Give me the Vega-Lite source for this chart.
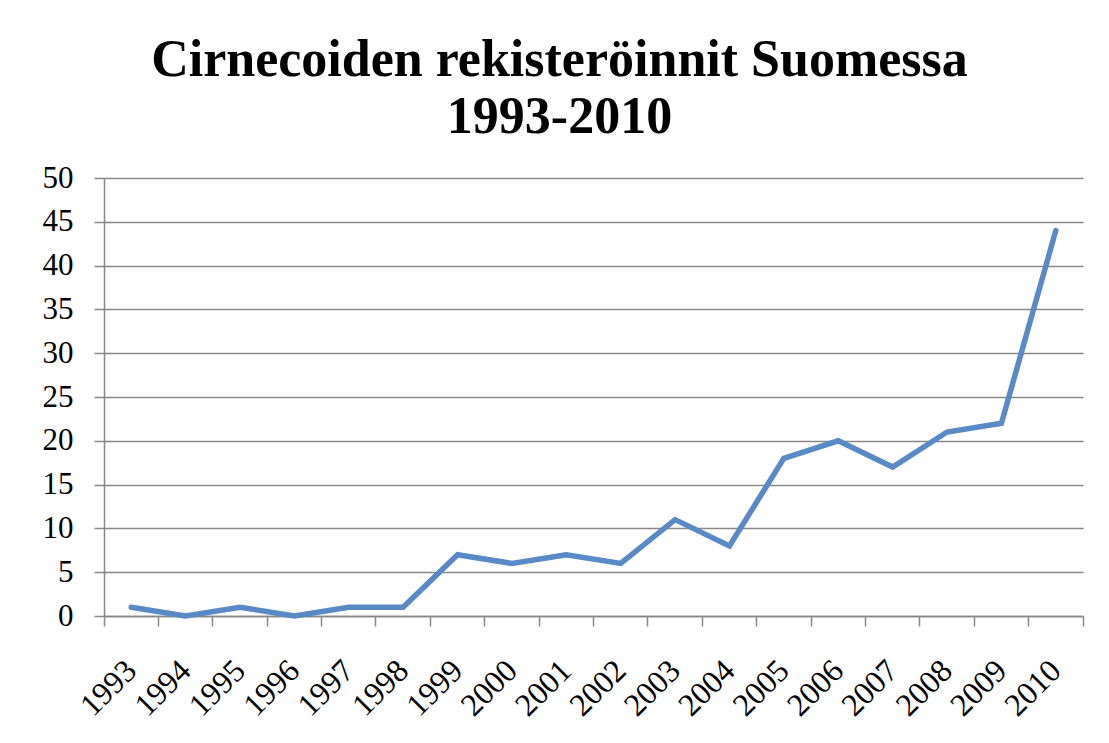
{
  "$schema": "https://vega.github.io/schema/vega-lite/v6.json",
  "autosize": {"type": "none"},
  "padding": {"left": 104, "top": 178, "right": 26, "bottom": 127},
  "width": 979,
  "height": 438,
  "background": "white",
  "title": {
    "text": ["Cirnecoiden rekisteröinnit Suomessa", "1993-2010"],
    "font": "Liberation Serif",
    "fontSize": 52,
    "fontWeight": "bold",
    "lineHeight": 57,
    "color": "black",
    "anchor": "middle",
    "frame": "group",
    "dx": -34,
    "offset": 18
  },
  "data": {
    "values": [
      {"vuosi": "1993", "rekisteröinnit": 1},
      {"vuosi": "1994", "rekisteröinnit": 0},
      {"vuosi": "1995", "rekisteröinnit": 1},
      {"vuosi": "1996", "rekisteröinnit": 0},
      {"vuosi": "1997", "rekisteröinnit": 1},
      {"vuosi": "1998", "rekisteröinnit": 1},
      {"vuosi": "1999", "rekisteröinnit": 7},
      {"vuosi": "2000", "rekisteröinnit": 6},
      {"vuosi": "2001", "rekisteröinnit": 7},
      {"vuosi": "2002", "rekisteröinnit": 6},
      {"vuosi": "2003", "rekisteröinnit": 11},
      {"vuosi": "2004", "rekisteröinnit": 8},
      {"vuosi": "2005", "rekisteröinnit": 18},
      {"vuosi": "2006", "rekisteröinnit": 20},
      {"vuosi": "2007", "rekisteröinnit": 17},
      {"vuosi": "2008", "rekisteröinnit": 21},
      {"vuosi": "2009", "rekisteröinnit": 22},
      {"vuosi": "2010", "rekisteröinnit": 44}
    ]
  },
  "mark": {"type": "line", "color": "#5A8AC6", "strokeWidth": 5.5, "strokeJoin": "miter", "strokeCap": "round"},
  "encoding": {
    "x": {
      "field": "vuosi",
      "type": "ordinal",
      "bandPosition": 0.5,
      "scale": {"type": "band", "paddingInner": 0, "paddingOuter": 0},
      "axis": {
        "title": null,
        "bandPosition": 1,
        "tickExtra": true,
        "labelAngle": -45,
        "labelAlign": "right",
        "labelBaseline": "middle",
        "labelPadding": 39,
        "labelFont": "Liberation Serif",
        "labelFontSize": 32,
        "labelColor": "black",
        "domainColor": "#888888",
        "domainWidth": 1.5,
        "tickColor": "#888888",
        "tickWidth": 1.5,
        "tickSize": 10,
        "grid": false
      }
    },
    "y": {
      "field": "rekisteröinnit",
      "type": "quantitative",
      "scale": {"domain": [0, 50], "nice": false},
      "axis": {
        "title": null,
        "values": [0, 5, 10, 15, 20, 25, 30, 35, 40, 45, 50],
        "labelFont": "Liberation Serif",
        "labelFontSize": 31,
        "labelColor": "black",
        "labelPadding": 21,
        "domainColor": "#888888",
        "domainWidth": 1.5,
        "tickColor": "#888888",
        "tickWidth": 1.5,
        "tickSize": 10,
        "gridColor": "#888888",
        "gridWidth": 1.5
      }
    }
  },
  "config": {"view": {"stroke": null}}
}
